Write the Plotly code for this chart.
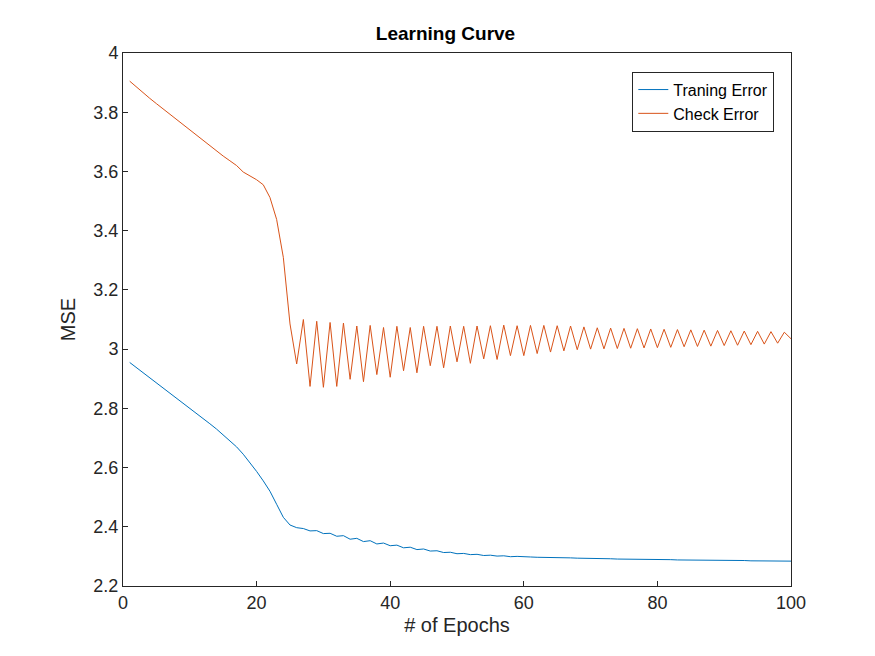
import plotly.graph_objects as go

epochs = list(range(1, 101))

train_err = [
    2.955, 2.938, 2.921, 2.904, 2.887, 2.870, 2.853, 2.836, 2.819, 2.801,
    2.784, 2.766, 2.748, 2.730, 2.711, 2.691, 2.670, 2.645, 2.617, 2.587,
    2.555, 2.520, 2.476, 2.432, 2.406, 2.397, 2.394, 2.386, 2.387, 2.377,
    2.378, 2.368, 2.370, 2.358, 2.361, 2.350, 2.353, 2.342, 2.345, 2.336,
    2.338, 2.329, 2.331, 2.323, 2.325, 2.318, 2.319, 2.313, 2.314, 2.309,
    2.310, 2.306, 2.307, 2.303, 2.304, 2.301, 2.302, 2.299, 2.300, 2.298,
    2.298, 2.297, 2.297, 2.296, 2.296, 2.295, 2.295, 2.294, 2.294, 2.293,
    2.293, 2.292, 2.292, 2.291, 2.291, 2.291, 2.290, 2.290, 2.290, 2.289,
    2.289, 2.289, 2.288, 2.288, 2.288, 2.287, 2.287, 2.287, 2.287, 2.286,
    2.286, 2.286, 2.286, 2.285, 2.285, 2.285, 2.285, 2.284, 2.284, 2.284,
]

check_err = [
    3.905, 3.885, 3.866, 3.847, 3.829, 3.811, 3.793, 3.775, 3.757, 3.739,
    3.721, 3.703, 3.686, 3.669, 3.652, 3.636, 3.620, 3.598, 3.585, 3.572,
    3.555, 3.512, 3.438, 3.310, 3.085, 2.950, 3.100, 2.874, 3.094, 2.871,
    3.090, 2.874, 3.088, 2.898, 3.078, 2.890, 3.080, 2.914, 3.073, 2.905,
    3.077, 2.927, 3.073, 2.920, 3.077, 2.944, 3.077, 2.937, 3.078, 2.957,
    3.077, 2.952, 3.078, 2.967, 3.079, 2.965, 3.081, 2.978, 3.079, 2.978,
    3.080, 2.985, 3.080, 2.990, 3.079, 2.994, 3.078, 2.998, 3.075, 3.000,
    3.072, 3.001, 3.071, 3.002, 3.070, 3.003, 3.069, 3.004, 3.068, 3.005,
    3.067, 3.006, 3.066, 3.008, 3.065, 3.009, 3.064, 3.010, 3.063, 3.012,
    3.062, 3.013, 3.061, 3.015, 3.060, 3.017, 3.059, 3.020, 3.057, 3.035,
]

fig = go.Figure()
fig.add_trace(go.Scatter(x=epochs, y=train_err, mode="lines", name="Traning Error",
                         line=dict(color="#0072BD", width=1)))
fig.add_trace(go.Scatter(x=epochs, y=check_err, mode="lines", name="Check Error",
                         line=dict(color="#D95319", width=1)))

axis_common = dict(
    showgrid=False, zeroline=False, showline=True, mirror=True,
    linecolor="#262626", linewidth=1, ticks="inside", ticklen=5,
    tickcolor="#262626", tickfont=dict(size=18, color="#262626"),
)

fig.update_layout(
    width=875, height=656,
    paper_bgcolor="white", plot_bgcolor="white",
    font=dict(family="Liberation Sans, Arial, sans-serif", color="#262626"),
    title=dict(text="<b>Learning Curve</b>", x=0.5, xanchor="center",
               y=0.962, yanchor="middle", font=dict(size=19, color="black")),
    margin=dict(l=115, r=92, t=45, b=78),
    xaxis=dict(range=[0, 100], dtick=20, title=dict(text="# of Epochs",
               font=dict(size=20), standoff=6), **axis_common),
    yaxis=dict(range=[2.2, 4], dtick=0.2, tickformat="~g",
               title=dict(text="MSE", font=dict(size=20), standoff=12), **axis_common),
    legend=dict(x=0.975, y=0.965, xanchor="right", yanchor="top",
                bordercolor="#262626", borderwidth=1, bgcolor="white",
                font=dict(size=16, color="black"), tracegroupgap=0),
    showlegend=True,
)

fig.write_html("out.html")
